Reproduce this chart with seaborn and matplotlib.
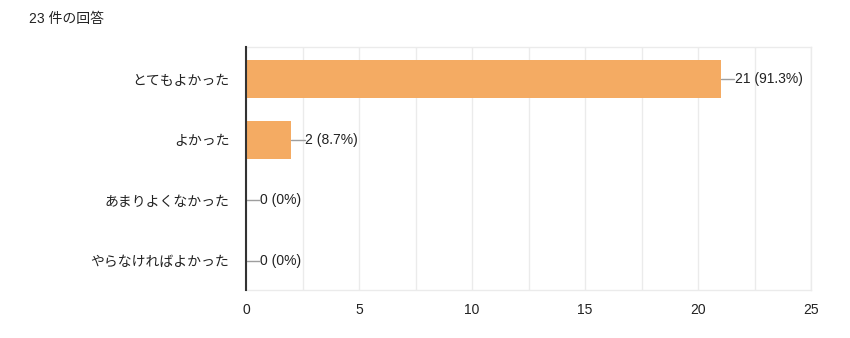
import matplotlib
matplotlib.use("Agg")
import matplotlib.pyplot as plt
import seaborn as sns
import pandas as pd
import numpy as np

categories = ["とてもよかった", "よかった", "あまりよくなかった", "やらなければよかった"]
counts = [21, 2, 0, 0]
labels = ["21 (91.3%)", "2 (8.7%)", "0 (0%)", "0 (0%)"]
title = "23 件の回答"
xticks = [0, 5, 10, 15, 20, 25]

sns.set_theme(style="white")
plt.rcParams['font.family'] = ['Liberation Sans', 'Noto Sans CJK JP', 'DejaVu Sans']

df = pd.DataFrame({"category": categories, "count": counts})

fig = plt.figure(figsize=(8.5, 3.38), dpi=100)
ax = fig.add_axes([246/850, 1-290/338, (811-246)/850, (290-47)/338])

sns.barplot(data=df, x="count", y="category", order=categories, color="#F4AB63",
            saturation=1, width=0.62, ax=ax, edgecolor="none")

ax.set_xlim(0, 25)
ax.set_ylim(3.48, -0.53)
ax.set_xticks(xticks)
ax.set_xticks(np.arange(0, 25.1, 2.5), minor=True)
ax.grid(True, axis="x", which="both", color="#ebebeb", linewidth=1)
ax.set_axisbelow(True)
ax.tick_params(axis="x", which="both", length=0, pad=9, labelsize=10, colors="#222222")
ax.tick_params(axis="y", length=0, pad=12, labelsize=10, colors="#222222")
ax.set_xlabel("")
ax.set_ylabel("")

for s in ["top", "right", "bottom"]:
    ax.spines[s].set_color("#ebebeb")
    ax.spines[s].set_linewidth(1)
ax.spines["left"].set_color("#333333")
ax.spines["left"].set_linewidth(1.5)
ax.spines["left"].set_zorder(5)

for i, (v, lab) in enumerate(zip(counts, labels)):
    ax.plot([v, v + 0.6], [i, i], color="#9e9e9e", linewidth=1, zorder=4)
    ax.text(v + 0.62, i, lab, va="center", ha="left", fontsize=10, color="#222222")

fig.text(29/850, 1-12/338, title, ha="left", va="top", fontsize=10, color="#222222")

fig.savefig("out.png", dpi=100, facecolor="white")
